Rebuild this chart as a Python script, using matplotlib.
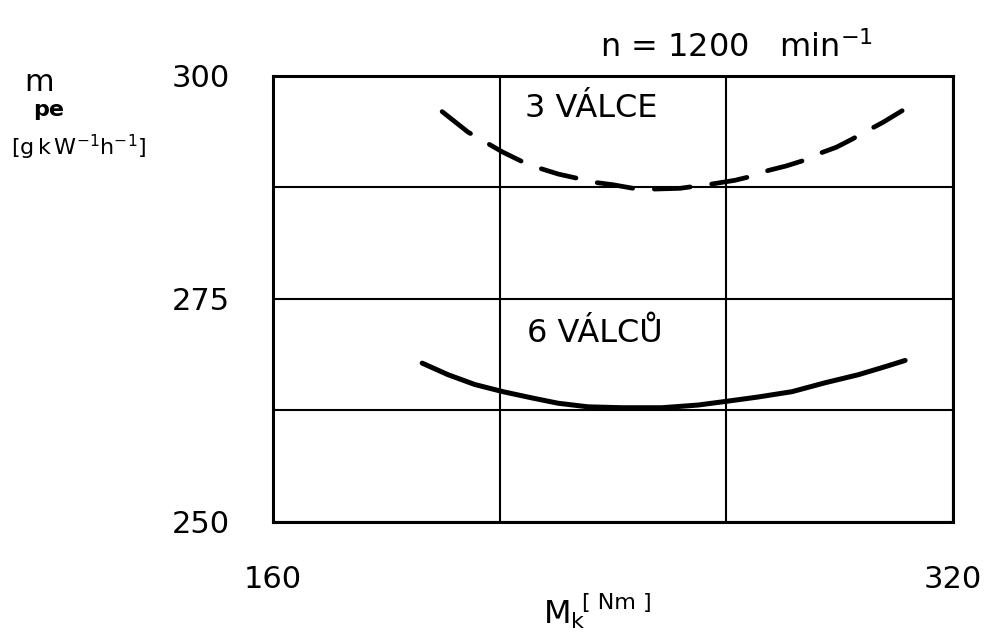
import numpy as np
import matplotlib
matplotlib.use('Agg')
import matplotlib.pyplot as plt

# torque M_k [Nm] and specific consumption m_pe [g/kWh]
mk_3 = [199.8, 205.9, 209.9, 213.9, 218.6, 222.4, 227.1, 231.8, 235.1, 240.0, 244.7, 248.7,
        255.8, 258.8, 263.5, 268.7, 273.9, 276.5, 280.7, 284.7, 288.5, 292.5, 296.2, 298.8,
        303.5, 308.0]
mpe_3 = [296.0, 293.7, 292.6, 291.5, 290.4, 289.7, 289.0, 288.5, 288.1, 287.8, 287.4, 287.3,
         287.4, 287.6, 287.9, 288.3, 288.9, 289.4, 289.9, 290.5, 291.3, 292.0, 292.9, 293.6,
         294.8, 296.1]

mk_6 = [195.1, 201.2, 207.5, 214.1, 220.9, 227.1, 234.1, 242.1, 251.5, 260.0, 266.4, 274.1,
        282.1, 289.9, 297.7, 304.0, 308.7]
mpe_6 = [267.8, 266.5, 265.4, 264.6, 263.9, 263.3, 262.9, 262.8, 262.8, 263.1, 263.5, 264.0,
         264.6, 265.6, 266.5, 267.4, 268.1]

x_grid = [160, 213.33, 266.67, 320]
x_labels = ['160', '', '', '320']
y_grid = [250, 262.5, 275, 287.5, 300]
y_labels = ['250', '', '275', '', '300']

plt.rcParams['font.family'] = ['DejaVu Sans']

fig = plt.figure(figsize=(9.96, 6.38), dpi=100)
ax = fig.add_axes([0.274, 0.182, 0.683, 0.699])

ax.plot(mk_3, mpe_3, color='black', lw=3.4, linestyle=(0, (7.6, 4.6)),
        dash_capstyle='round', dash_joinstyle='round')
ax.plot(mk_6, mpe_6, color='black', lw=3.6, solid_capstyle='round', solid_joinstyle='round')

ax.set_xlim(160, 320)
ax.set_ylim(250, 300)
ax.set_xticks(x_grid)
ax.set_xticklabels(x_labels)
ax.set_yticks(y_grid)
ax.set_yticklabels(y_labels)
ax.tick_params(axis='x', length=0, pad=31, labelsize=22)
ax.tick_params(axis='y', length=0, pad=31, labelsize=22)
ax.grid(True, color='black', lw=1.5)
for s in ax.spines.values():
    s.set_linewidth(2.2)

ax.text(219.3, 295.4, '3 VÁLCE', fontsize=23, va='baseline')
ax.text(219.8, 270.2, '6 VÁLCŮ', fontsize=23, va='baseline')

fig.text(0.602, 0.911, r'n = 1200   min$^{-1}$', fontsize=23, va='baseline')
fig.text(0.024, 0.858, 'm', fontsize=22, va='baseline')
fig.text(0.033, 0.818, 'pe', fontsize=16, fontweight='bold', va='baseline')
fig.text(0.011, 0.757, r'$\mathregular{[g\,k\,W^{-1}h^{-1}]}$', fontsize=16, va='baseline')
fig.text(0.545, 0.022, r'$\mathregular{M_k}$', fontsize=23, va='baseline')
fig.text(0.584, 0.045, '[ Nm ]', fontsize=16, va='baseline')

plt.savefig('out.png', dpi=100)
